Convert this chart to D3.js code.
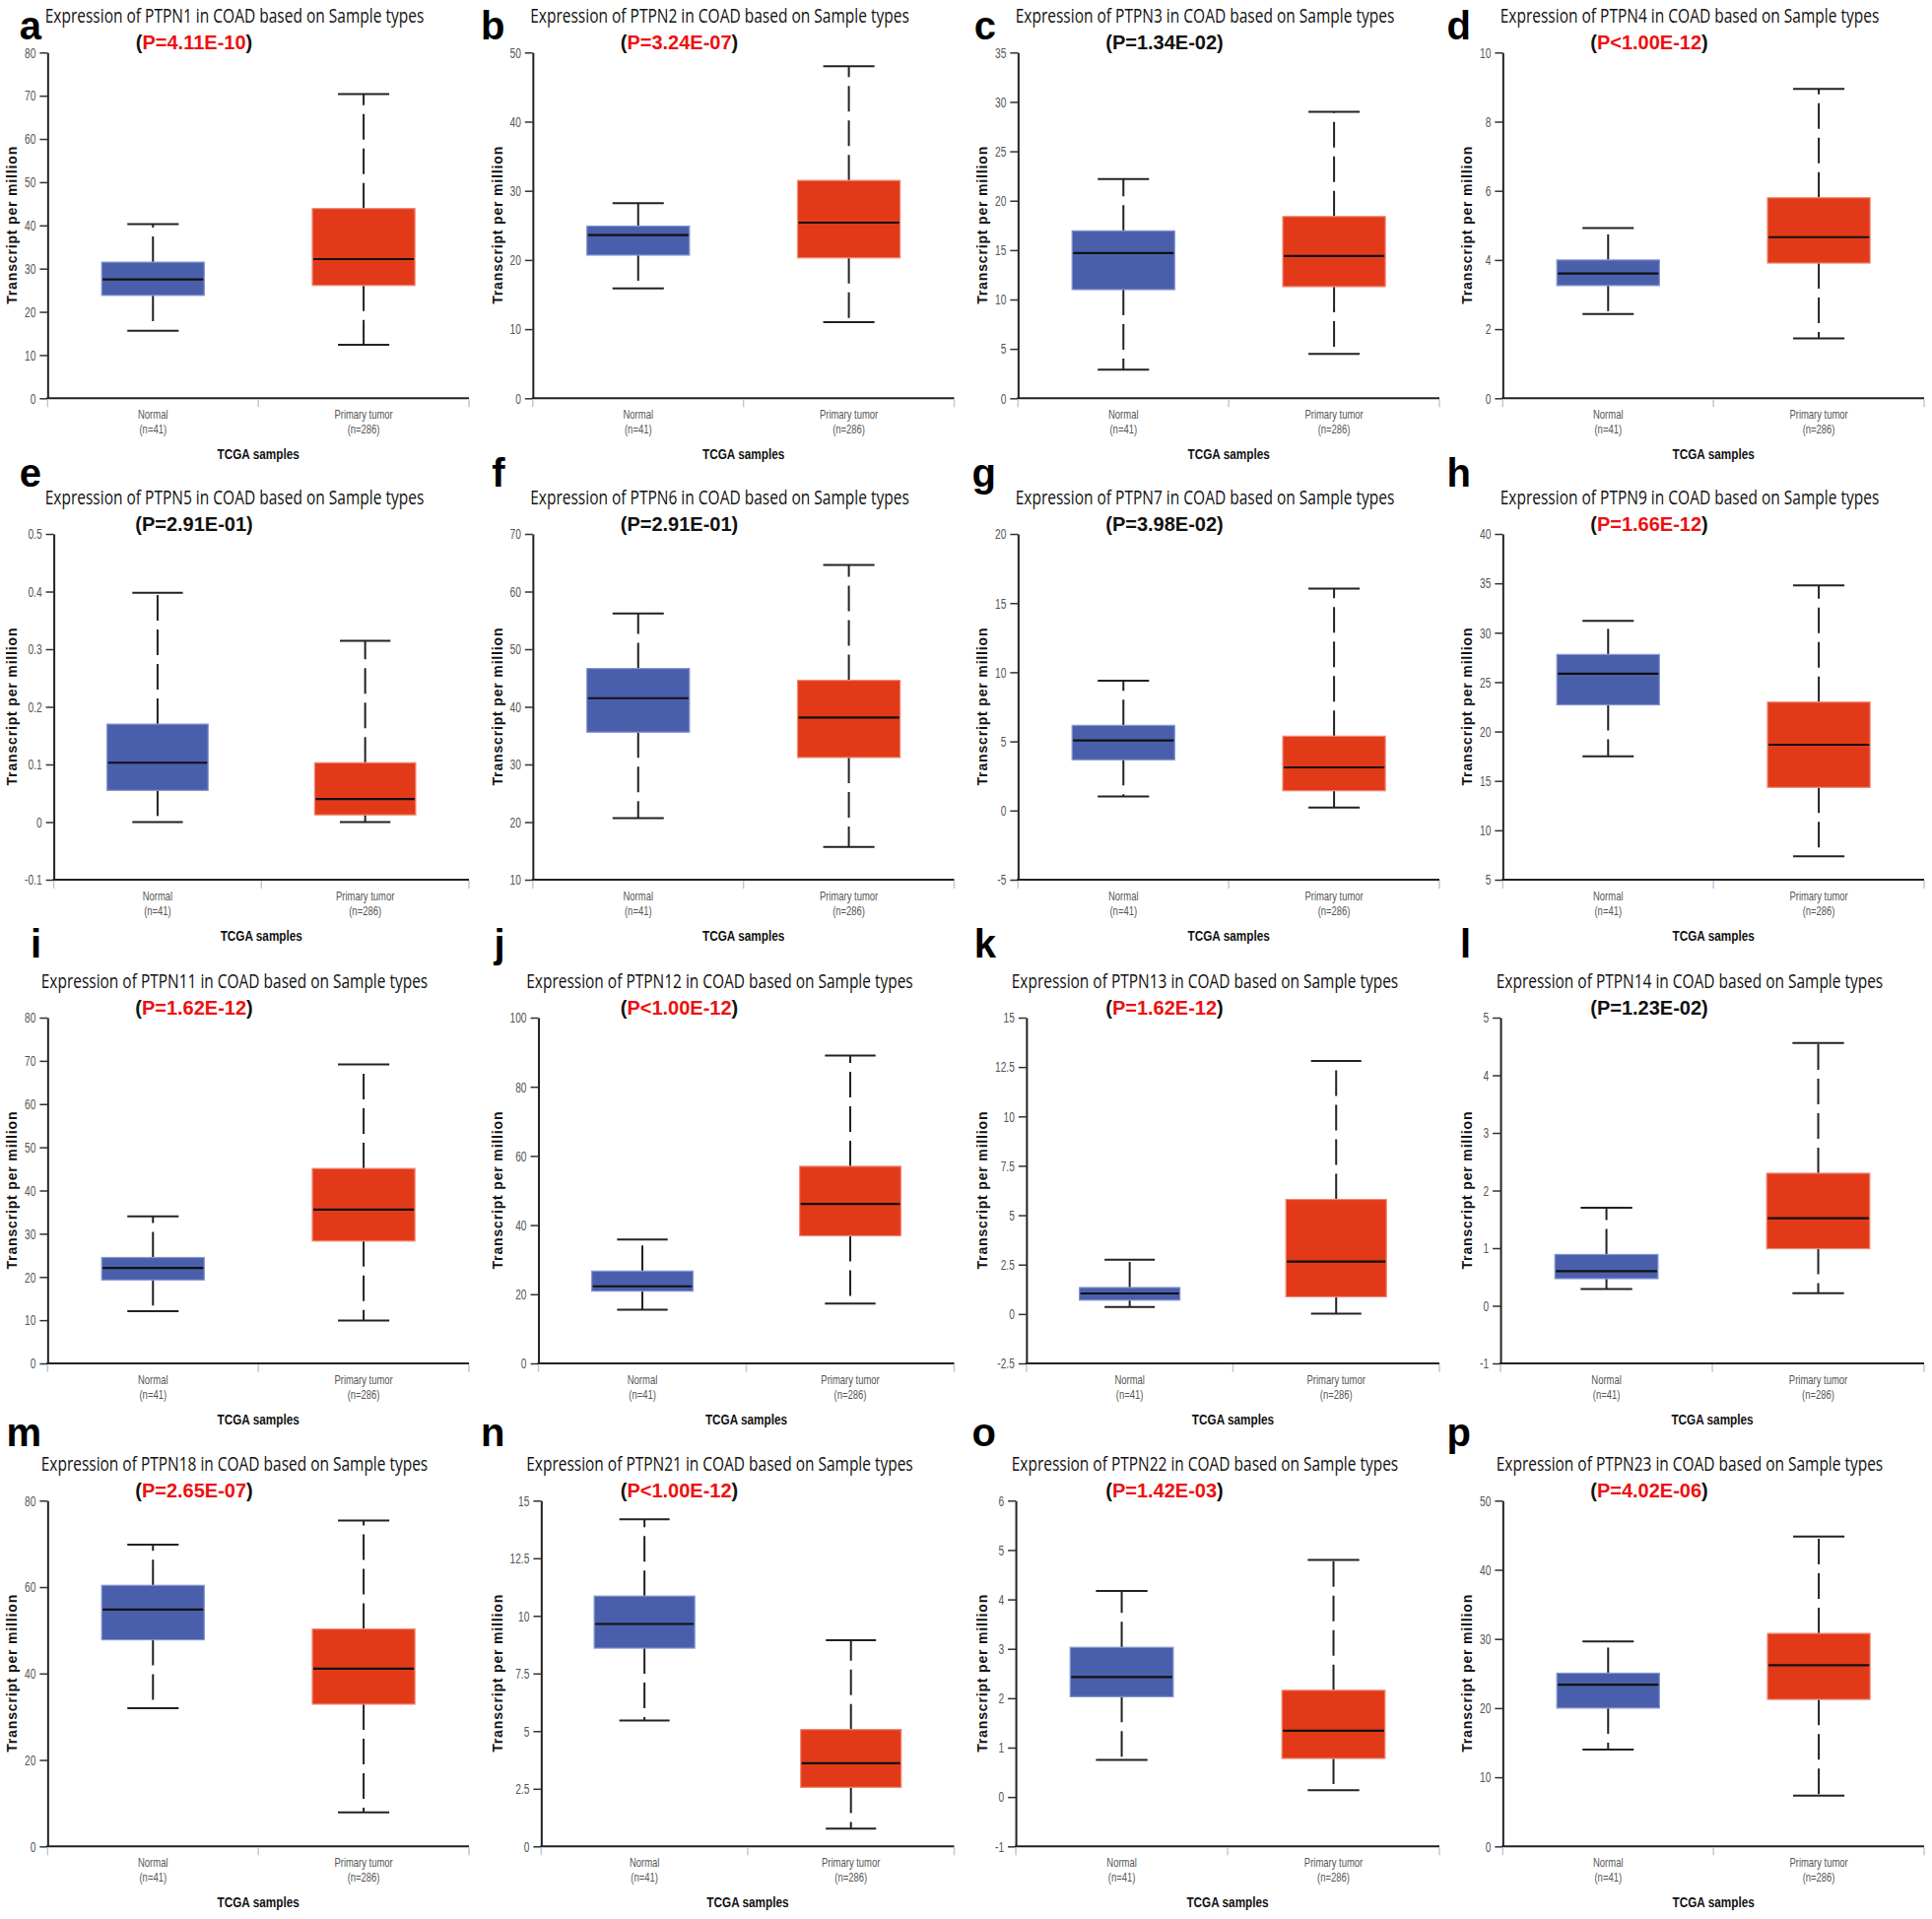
<!DOCTYPE html>
<html>
<head>
<meta charset="utf-8">
<script src="https://cdn.jsdelivr.net/npm/d3@7"></script>
<style>
  body { margin: 0; background: #fff; }
  svg { display: block; }
</style>
</head>
<body>
<svg id="fig"></svg>
<script>
///////////////////////////////////////////////////////////
//////////////////////// data /////////////////////////////
///////////////////////////////////////////////////////////
var genes = ["PTPN1", "PTPN2", "PTPN3", "PTPN4", "PTPN5", "PTPN6", "PTPN7", "PTPN9",
             "PTPN11", "PTPN12", "PTPN13", "PTPN14", "PTPN18", "PTPN21", "PTPN22", "PTPN23"];
var panelLetters = ["a", "b", "c", "d", "e", "f", "g", "h", "i", "j", "k", "l", "m", "n", "o", "p"];
var pValues = ["P=4.11E-10", "P=3.24E-07", "P=1.34E-02", "P<1.00E-12",
               "P=2.91E-01", "P=2.91E-01", "P=3.98E-02", "P=1.66E-12",
               "P=1.62E-12", "P<1.00E-12", "P=1.62E-12", "P=1.23E-02",
               "P=2.65E-07", "P<1.00E-12", "P=1.42E-03", "P=4.02E-06"];
var categories = ["Normal", "Primary tumor"];
var sampleSizes = ["(n=41)", "(n=286)"];

var yDomains = [[0, 80], [0, 50], [0, 35], [0, 10],
                [-0.1, 0.5], [10, 70], [-5, 20], [5, 40],
                [0, 80], [0, 100], [-2.5, 15], [-1, 5],
                [0, 80], [0, 15], [-1, 6], [0, 50]];
var yTicks = [
  [0, 10, 20, 30, 40, 50, 60, 70, 80],
  [0, 10, 20, 30, 40, 50],
  [0, 5, 10, 15, 20, 25, 30, 35],
  [0, 2, 4, 6, 8, 10],
  [-0.1, 0, 0.1, 0.2, 0.3, 0.4, 0.5],
  [10, 20, 30, 40, 50, 60, 70],
  [-5, 0, 5, 10, 15, 20],
  [5, 10, 15, 20, 25, 30, 35, 40],
  [0, 10, 20, 30, 40, 50, 60, 70, 80],
  [0, 20, 40, 60, 80, 100],
  [-2.5, 0, 2.5, 5, 7.5, 10, 12.5, 15],
  [-1, 0, 1, 2, 3, 4, 5],
  [0, 20, 40, 60, 80],
  [0, 2.5, 5, 7.5, 10, 12.5, 15],
  [-1, 0, 1, 2, 3, 4, 5, 6],
  [0, 10, 20, 30, 40, 50]
];

// [lower whisker, q1, median, q3, upper whisker]
var normalStats = [
  [15.6, 23.8, 27.5, 31.5, 40.3],
  [15.9, 20.7, 23.6, 24.9, 28.2],
  [2.9, 11.0, 14.7, 16.95, 22.2],
  [2.44, 3.26, 3.61, 4.0, 4.92],
  [0.0, 0.055, 0.103, 0.170, 0.398],
  [20.7, 35.6, 41.5, 46.65, 56.2],
  [1.01, 3.67, 5.07, 6.16, 9.39],
  [17.5, 22.7, 25.85, 27.8, 31.2],
  [12.1, 19.3, 22.1, 24.5, 34.0],
  [15.5, 20.9, 22.3, 26.7, 35.8],
  [0.36, 0.70, 1.04, 1.34, 2.75],
  [0.29, 0.47, 0.60, 0.89, 1.70],
  [32.0, 47.8, 54.8, 60.4, 69.8],
  [5.46, 8.6, 9.65, 10.86, 14.19],
  [0.75, 2.03, 2.43, 3.03, 4.17],
  [14.0, 20.0, 23.4, 25.05, 29.65]
];
var tumorStats = [
  [12.4, 26.1, 32.2, 43.9, 70.4],
  [11.0, 20.3, 25.4, 31.5, 48.0],
  [4.5, 11.3, 14.4, 18.4, 29.0],
  [1.73, 3.91, 4.66, 5.80, 8.95],
  [0.0, 0.0125, 0.040, 0.103, 0.3145],
  [15.7, 31.2, 38.15, 44.6, 64.6],
  [0.22, 1.43, 3.12, 5.38, 16.04],
  [7.36, 14.34, 18.66, 22.98, 34.78],
  [9.9, 28.3, 35.6, 45.1, 69.2],
  [17.3, 36.9, 46.1, 57.0, 89.0],
  [0.02, 0.87, 2.65, 5.8, 12.81],
  [0.22, 0.99, 1.52, 2.30, 4.56],
  [7.9, 32.9, 41.1, 50.3, 75.4],
  [0.77, 2.56, 3.61, 5.07, 8.94],
  [0.14, 0.78, 1.34, 2.16, 4.80],
  [7.35, 21.25, 26.2, 30.8, 44.8]
];

///////////////////////////////////////////////////////////
/////////////////////// layout ////////////////////////////
///////////////////////////////////////////////////////////
var W = 1961, H = 1948;
var colX = [0, 492.5, 985, 1477];          // left edge of each column
var rowTop = [53.3, 542, 1033, 1523.3];     // top of plot area in each row
var letterRight = [42, 20, 26, 16];         // panel letters are right aligned here
var letterDrop = [-13, -48, -61, -55];      // letter baseline vs plot top
var plotH = 351, plotRight = 476;
var boxFill = ["#4a5fab", "#e23a19"];
var boxEdge = ["#8596cf", "#f08a76"];
var sansFont = "'Liberation Sans', Arial, sans-serif";
var titleFont = "'Open Sans', 'Liberation Sans', sans-serif";

var svg = d3.select("#fig").attr("width", W).attr("height", H);
svg.append("rect").attr("width", W).attr("height", H).attr("fill", "#fff");

//squash text horizontally, the source uses a condensed face
function squeeze(sel, k) {
  var widths = [];
  sel.each(function() {
    var w = this.getComputedTextLength() * k;
    widths.push(w);
    d3.select(this).attr("textLength", w).attr("lengthAdjust", "spacingAndGlyphs");
  });
  return widths;
}

var fmt = function(d) { return String(+d.toFixed(3)); };

genes.forEach(function(gene, i) {
  var col = i % 4, row = Math.floor(i / 4);
  var top = rowTop[row], bottom = top + plotH;
  var g = svg.append("g").attr("transform", "translate(" + colX[col] + ",0)");

  var y = d3.scaleLinear().domain(yDomains[i]).range([bottom, top]);

  //y axis first, its label width sets where the plot starts
  var yAxisG = g.append("g").attr("class", "y-axis");
  yAxisG.call(d3.axisLeft(y)
      .tickValues(yTicks[i])
      .tickSize(8)
      .tickSizeOuter(0)
      .tickPadding(4)
      .tickFormat(fmt));
  var tickTexts = yAxisG.selectAll("text")
      .attr("font-family", sansFont)
      .attr("font-size", 15)
      .attr("fill", "#555");
  var labelW = squeeze(tickTexts, 0.68);
  var axisX = 25 + d3.max(labelW) + 12;
  yAxisG.attr("transform", "translate(" + axisX + ",0)");
  yAxisG.select(".domain").attr("stroke", "#222").attr("stroke-width", 2);
  yAxisG.selectAll(".tick line").attr("stroke", "#333").attr("stroke-width", 1.5);

  var x = d3.scaleBand().domain(categories).range([axisX, plotRight]);
  var bw = x.bandwidth();

  //x axis: dark base line + pale band ticks
  g.append("line")
      .attr("x1", axisX - 1).attr("x2", plotRight)
      .attr("y1", bottom).attr("y2", bottom)
      .attr("stroke", "#222").attr("stroke-width", 2);
  g.selectAll(".band-tick")
      .data([axisX, axisX + bw, plotRight])
      .enter().append("line")
      .attr("class", "band-tick")
      .attr("x1", function(d) { return d; }).attr("x2", function(d) { return d; })
      .attr("y1", bottom + 1).attr("y2", bottom + 9)
      .attr("stroke", "#b9cbe2").attr("stroke-width", 1.5);

  var catG = g.selectAll(".cat")
      .data(categories)
      .enter().append("g")
      .attr("class", "cat")
      .attr("transform", function(d) { return "translate(" + (x(d) + bw / 2) + "," + bottom + ")"; });
  var catName = catG.append("text")
      .attr("y", 21)
      .attr("text-anchor", "middle")
      .attr("font-family", sansFont).attr("font-size", 13.5).attr("fill", "#555")
      .text(function(d) { return d; });
  var catN = catG.append("text")
      .attr("y", 36)
      .attr("text-anchor", "middle")
      .attr("font-family", sansFont).attr("font-size", 13.5).attr("fill", "#555")
      .text(function(d, j) { return sampleSizes[j]; });
  squeeze(catName, 0.7);
  squeeze(catN, 0.7);

  var xTitle = g.append("text")
      .attr("x", (axisX + plotRight) / 2)
      .attr("y", bottom + 62)
      .attr("text-anchor", "middle")
      .attr("font-family", sansFont).attr("font-size", 14).attr("font-weight", "bold")
      .attr("fill", "#111")
      .text("TCGA samples");
  squeeze(xTitle, 0.84);

  g.append("text")
      .attr("transform", "translate(17," + ((top + bottom) / 2) + ") rotate(-90)")
      .attr("text-anchor", "middle")
      .attr("font-family", sansFont).attr("font-size", 14).attr("font-weight", "bold")
      .attr("fill", "#111")
      .attr("textLength", 160).attr("lengthAdjust", "spacing")
      .text("Transcript per million");

  //boxes
  var stats = [normalStats[i], tumorStats[i]];
  categories.forEach(function(cat, j) {
    var s = stats[j];
    var cx = x(cat) + bw / 2;
    var boxW = bw * 0.487, capW = boxW / 2;
    var bg = g.append("g").attr("class", "box");

    bg.selectAll(".whisker")
        .data([[s[3], s[4]], [s[1], s[0]]])
        .enter().append("line")
        .attr("class", "whisker")
        .attr("x1", cx).attr("x2", cx)
        .attr("y1", function(d) { return y(d[0]); })
        .attr("y2", function(d) { return y(d[1]); })
        .attr("stroke", "#222").attr("stroke-width", 2)
        .attr("stroke-dasharray", "26,9");

    bg.selectAll(".cap")
        .data([s[0], s[4]])
        .enter().append("line")
        .attr("class", "cap")
        .attr("x1", cx - capW / 2).attr("x2", cx + capW / 2)
        .attr("y1", function(d) { return y(d); })
        .attr("y2", function(d) { return y(d); })
        .attr("stroke", "#222").attr("stroke-width", 2);

    bg.append("rect")
        .attr("x", cx - boxW / 2)
        .attr("y", y(s[3]))
        .attr("width", boxW)
        .attr("height", y(s[1]) - y(s[3]))
        .attr("fill", boxFill[j])
        .attr("stroke", boxEdge[j]).attr("stroke-width", 1.2);

    bg.append("line")
        .attr("x1", cx - boxW / 2 + 1).attr("x2", cx + boxW / 2 - 1)
        .attr("y1", y(s[2])).attr("y2", y(s[2]))
        .attr("stroke", "#111").attr("stroke-width", 2.2);
  });

  //title
  var title = "Expression of " + gene + " in COAD based on Sample types";
  g.append("text")
      .attr("x", 238)
      .attr("y", top - 30)
      .attr("text-anchor", "middle")
      .attr("font-family", titleFont).attr("font-size", 19.5)
      .attr("fill", "#111")
      .attr("textLength", title.length * 7.85).attr("lengthAdjust", "spacingAndGlyphs")
      .text(title);

  //p value, red when significant
  var pNum = +pValues[i].slice(2);
  var pText = g.append("text")
      .attr("x", 197)
      .attr("y", top - 3.5)
      .attr("text-anchor", "middle")
      .attr("font-family", sansFont).attr("font-size", 20).attr("font-weight", "bold")
      .attr("fill", "#111");
  pText.append("tspan").text("(");
  pText.append("tspan").attr("fill", pNum < 0.01 ? "#ee1010" : "#111").text(pValues[i]);
  pText.append("tspan").text(")");

  //panel letter
  g.append("text")
      .attr("x", letterRight[col])
      .attr("y", top + letterDrop[row])
      .attr("text-anchor", "end")
      .attr("font-family", sansFont).attr("font-size", 40).attr("font-weight", "bold")
      .attr("fill", "#000")
      .text(panelLetters[i]);
});
</script>
</body>
</html>
